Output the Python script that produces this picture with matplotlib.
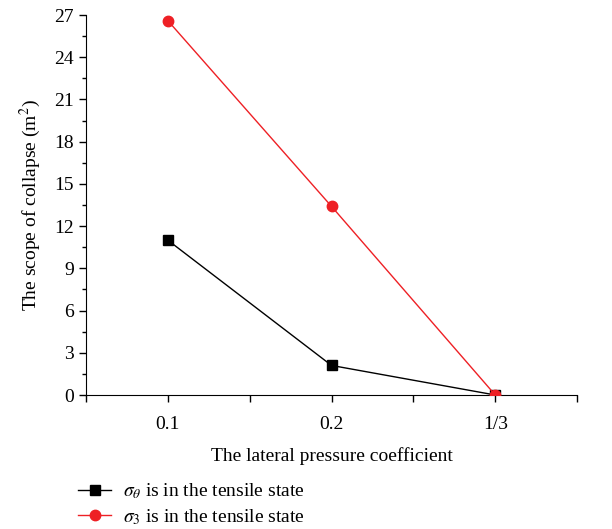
import matplotlib.pyplot as plt
from matplotlib.ticker import MultipleLocator

plt.rcParams['font.family'] = ['Liberation Serif', 'DejaVu Serif']
plt.rcParams['mathtext.fontset'] = 'stix'

coef_labels = ["0.1", "0.2", "1/3"]
sigma_theta = [11.0, 2.1, 0.0]
sigma_3 = [26.6, 13.4, 0.0]

pos = range(1, len(coef_labels) + 1)

fig = plt.figure(figsize=(6.12, 5.29), dpi=100)
ax = fig.add_axes([0.1405, 0.2533, 0.8025, 0.7183])

ax.plot(pos, sigma_theta, color="black", marker="s", markersize=7, linewidth=1,
        label=r"$\sigma_\theta$ is in the tensile state", zorder=3)
ax.plot(pos, sigma_3, color="#ee2025", marker="o", markersize=7.5, linewidth=1,
        label=r"$\sigma_3$ is in the tensile state", zorder=4)

ax.set_xlim(0.5, 3.5)
ax.set_ylim(0, 27)
ax.set_xticks(list(pos) + [0.5, 1.5, 2.5, 3.5])
ax.set_xticklabels(coef_labels + [""] * 4)
ax.yaxis.set_major_locator(MultipleLocator(3))
ax.yaxis.set_minor_locator(MultipleLocator(1.5))

for side in ["top", "right"]:
    ax.spines[side].set_visible(False)
ax.tick_params(axis="both", which="major", direction="out", length=5, width=1,
               labelsize=14)
ax.tick_params(axis="y", which="minor", direction="out", length=3, width=1)
ax.tick_params(axis="x", pad=10)

ax.set_xlabel("The lateral pressure coefficient", fontsize=14, labelpad=10)
ax.set_ylabel("The scope of collapse (m$^2$)", fontsize=14, labelpad=8)

fig.legend(loc="upper left", bbox_to_anchor=(0.115, 0.104), frameon=False,
           fontsize=14, handlelength=1.7, handletextpad=0.6, labelspacing=0.3,
           borderaxespad=0)

fig.savefig("out.png", dpi=100)
